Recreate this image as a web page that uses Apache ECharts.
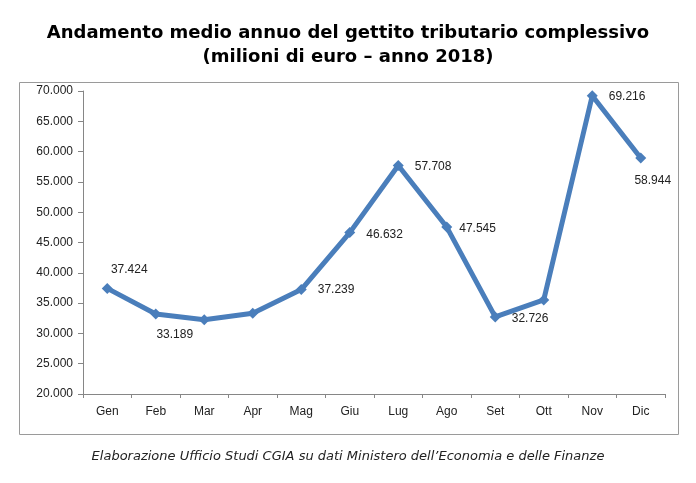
<!DOCTYPE html>
<html>
<head>
<meta charset="utf-8">
<script src="https://cdn.jsdelivr.net/npm/echarts@6/dist/echarts.min.js"></script>
<style>html,body{margin:0;padding:0;background:#fff;}#c{width:696px;height:483px;}</style>
</head>
<body>
<div id="c"></div>
<script>
const months = ['Gen','Feb','Mar','Apr','Mag','Giu','Lug','Ago','Set','Ott','Nov','Dic'];
const values = [37424, 33189, 32240, 33340, 37239, 46632, 57708, 47545, 32726, 35530, 69216, 58944];
const labelled = [true, true, false, false, true, true, true, true, true, false, true, true];
const titleLines = ['Andamento medio annuo del gettito tributario complessivo', '(milioni di euro \u2013 anno 2018)'];
const sourceText = 'Elaborazione Ufficio Studi CGIA su dati Ministero dell\u2019Economia e delle Finanze';

const labelStyle = {
  Gen: {position: 'top', offset: [22, 0]},
  Feb: {position: 'bottom', offset: [19, 2]},
  Mag: {position: 'right', offset: [4, 0]},
  Giu: {position: 'right', offset: [4, 2]},
  Lug: {position: 'right', offset: [4, 1]},
  Ago: {position: 'right', offset: [0, 2]},
  Set: {position: 'right', offset: [4, 2]},
  Nov: {position: 'right', offset: [4, 1]},
  Dic: {position: 'bottom', offset: [12, 4]}
};

function fmt(v) { return String(v).replace(/\B(?=(\d{3})+(?!\d))/g, '.'); }

const seriesData = values.map((v, i) => {
  const m = months[i];
  if (!labelled[i]) return {value: v, label: {show: false}};
  const ls = labelStyle[m];
  return {value: v, label: {show: true, position: ls.position, offset: ls.offset, distance: 7}};
});

const chart = echarts.init(document.getElementById('c'), null, {renderer: 'canvas'});
chart.setOption({
  animation: false,
  backgroundColor: '#fff',
  textStyle: {fontFamily: 'Liberation Sans'},
  title: {
    text: titleLines.join('\n'),
    left: 'center',
    top: 16,
    textStyle: {fontFamily: 'DejaVu Sans', fontWeight: 'bold', fontSize: 18, lineHeight: 24, color: '#000'}
  },
  graphic: [
    {type: 'rect', left: 17, top: 80, shape: {width: 659, height: 352}, style: {fill: 'none', stroke: '#9a9a9a', lineWidth: 1}, z: -1},
    {type: 'text', left: 'center', top: 450, style: {text: sourceText, font: 'italic 13px "DejaVu Sans"', fill: '#222'}}
  ],
  grid: {left: 83, right: 31, top: 91, bottom: 89, containLabel: false},
  xAxis: {
    type: 'category',
    data: months,
    boundaryGap: true,
    axisLine: {lineStyle: {color: '#868686', width: 1}},
    axisTick: {show: true, length: 4, lineStyle: {color: '#868686'}},
    axisLabel: {color: '#222', fontSize: 12, margin: 12}
  },
  yAxis: {
    type: 'value',
    min: 20000,
    max: 70000,
    interval: 5000,
    axisLine: {show: true, lineStyle: {color: '#868686', width: 1}},
    axisTick: {show: true, length: 5, lineStyle: {color: '#868686'}},
    splitLine: {show: false},
    axisLabel: {color: '#222', fontSize: 12, margin: 10, formatter: fmt}
  },
  series: [{
    type: 'line',
    data: seriesData,
    symbol: 'diamond',
    symbolSize: 11,
    lineStyle: {color: '#4a7ebb', width: 5},
    itemStyle: {color: '#4a7ebb'},
    label: {color: '#222', fontSize: 12, formatter: p => fmt(p.value)}
  }]
});
</script>
</body>
</html>
